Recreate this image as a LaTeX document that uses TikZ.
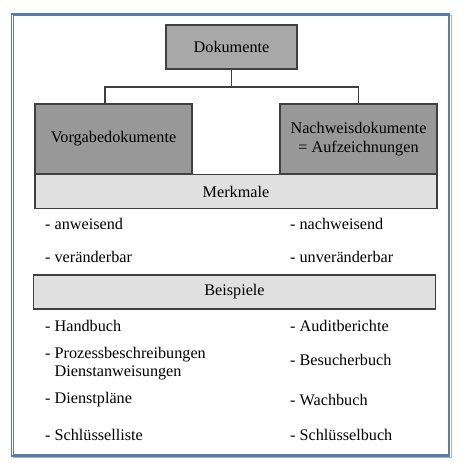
\documentclass[tikz,border=0pt]{standalone}
\usepackage{fontspec}
\setmainfont{Liberation Serif}
\usetikzlibrary{positioning}
\definecolor{DocFrame}{HTML}{4A7EC0}
\definecolor{DocLine}{HTML}{404040}
\definecolor{DocTop}{HTML}{A8A8A8}
\definecolor{DocDark}{HTML}{989898}
\definecolor{DocBar}{HTML}{E0E0E0}

\begin{document}
\begin{tikzpicture}[x=1pt,y=1pt,font=\fontsize{16.2}{19.5}\selectfont]
\tikzset{
  topbox/.style={draw=DocLine,line width=1.1pt,fill=DocTop,
                 minimum width=131pt,minimum height=44pt,align=center},
  kindbox/.style={draw=DocLine,line width=1.1pt,fill=DocDark,
                  minimum width=157pt,minimum height=70pt,align=center},
  bar/.style={draw=DocLine,line width=1.1pt,fill=DocBar,
              minimum width=402pt,minimum height=34pt,align=center},
  item/.style={anchor=west,inner sep=0pt,align=left,
               font=\fontsize{16.2}{17.5}\selectfont},
  tree/.style={DocLine,line width=1.1pt}
}
\useasboundingbox (0,0) rectangle (463,471);

% ---------- frame ------------------------------------------------------
\draw[gray!60,line width=1pt] (13.5,13.5) rectangle (451,455);
\draw[DocFrame,line width=1.4pt] (11.5,15) rectangle (449.5,457);
\draw[DocLine!70,line width=0.5pt] (13,16.5) rectangle (448,455.5);

% ---------- tree -------------------------------------------------------
\node[topbox] (doc) at (231.5,424) {Dokumente};
\node[kindbox] (vorgabe) at (113.5,332) {Vorgabedokumente};
\node[kindbox] (nachweis) at (358.5,332) {Nachweisdokumente\\= Aufzeichnungen};

\coordinate (fork) at (231.5,384);
\draw[tree] (doc.south) -- (fork);
\draw[tree] (fork) -| ([xshift=-8.5pt]vorgabe.north);
\draw[tree] (fork) -| (nachweis.north);

% ---------- Merkmale ---------------------------------------------------
\node[bar] (merkmale) at (236,279.5) {Merkmale};
\node[item] (m1) at (45,247) {- anweisend};
\node[item] (m2) at (45,214) {- veränderbar};
\node[item] (n1) at (290,247) {- nachweisend};
\node[item] (n2) at (290,214) {- unveränderbar};

% ---------- Beispiele --------------------------------------------------
\node[bar] (beispiele) at (234.5,179) {Beispiele};
\node[item] (b1) at (45,145) {- Handbuch};
\node[item] (b2) at (45,107.5) {- Prozessbeschreibungen\\\phantom{- }Dienstanweisungen};
\node[item] (b3) at (45,71) {- Dienstpläne};
\node[item] (b4) at (45,36) {- Schlüsselliste};
\node[item] (c1) at (290,145) {- Auditberichte};
\node[item] (c2) at (290,111) {- Besucherbuch};
\node[item] (c3) at (290,71) {- Wachbuch};
\node[item] (c4) at (290,36) {- Schlüsselbuch};
\end{tikzpicture}
\end{document}
